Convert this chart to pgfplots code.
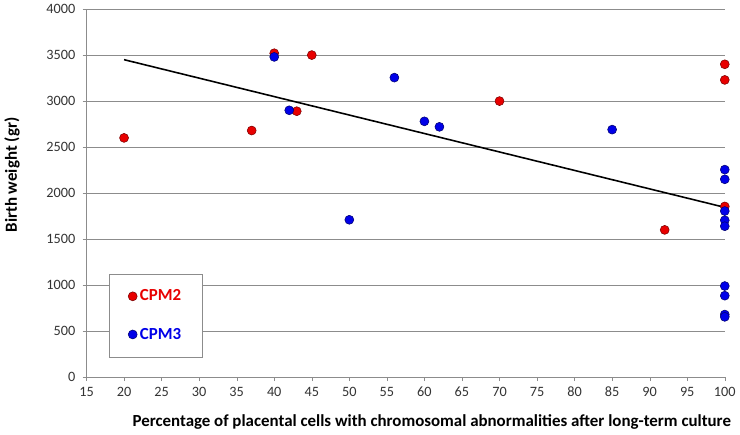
\documentclass[border=0pt]{standalone}
\usepackage{fontspec}
\setmainfont{Carlito}
\usepackage{pgfplots}
\pgfplotsset{compat=1.18}

\definecolor{cpmred}{RGB}{232,0,0}
\definecolor{cpmredd}{RGB}{120,0,0}
\definecolor{cpmblue}{RGB}{0,0,232}
\definecolor{cpmblued}{RGB}{0,0,110}
\definecolor{gridgray}{RGB}{140,140,140}

\begin{document}
\begin{tikzpicture}
\begin{axis}[
  width=483.5pt, height=278.8pt, scale only axis,
  xmin=15, xmax=100, ymin=0, ymax=4000,
  xtick={15,20,...,100}, ytick={0,500,...,4000},
  axis x line=bottom, axis y line=left,
  axis line style={-, draw=gridgray},
  tick align=outside, major tick length=3pt,
  tick style={gridgray},
  ymajorgrids, grid style={gridgray, line width=0.6pt},
  /pgf/number format/assume math mode=true,
  /pgf/number format/1000 sep={},
  ticklabel style={font=\fontsize{10.8}{12}\selectfont, text=black!80},
  yticklabel style={xshift=-2pt},
  xticklabel style={yshift=-1pt},
  xlabel={\bfseries Percentage of placental cells with chromosomal abnormalities after long-term culture},
  ylabel={\bfseries Birth weight (gr)},
  label style={font=\fontsize{12.8}{14}\selectfont},
  xlabel style={at={(axis description cs:0.541,-0.135)}, anchor=base},
  ylabel style={at={(axis description cs:-0.109,0.549)}, anchor=base},
  legend style={at={(0.036,0.281)}, anchor=north west, draw=gridgray, fill=white,
    inner xsep=14pt, inner ysep=10pt, row sep=15pt,
    font=\bfseries\fontsize{12.8}{15}\selectfont},
  legend cell align=left,
  clip=false,
]
\addplot[only marks, mark=*, mark size=3.4pt, mark options={fill=cpmred, draw=cpmredd, line width=0.4pt}]
  coordinates {
  (20,2600) (37,2680) (40,3520) (43,2890) (45,3500) (70,3000)
  (92,1600) (100,3400) (100,3230) (100,1855)
  };
\addlegendentry{\textcolor{cpmred}{CPM2}}
\addplot[only marks, mark=*, mark size=3.4pt, mark options={fill=cpmblue, draw=cpmblued, line width=0.4pt}]
  coordinates {
  (40,3480) (42,2900) (50,1710) (56,3255) (60,2780) (62,2720) (85,2690)
  (100,2255) (100,2150) (100,1805) (100,1705) (100,1640)
  (100,990) (100,885) (100,680) (100,655)
  };
\addlegendentry{\textcolor{cpmblue}{CPM3}}
\addplot[black, line width=1.2pt, no markers, forget plot]
  coordinates {(20,3450) (100,1845)};
\end{axis}
\end{tikzpicture}
\end{document}
